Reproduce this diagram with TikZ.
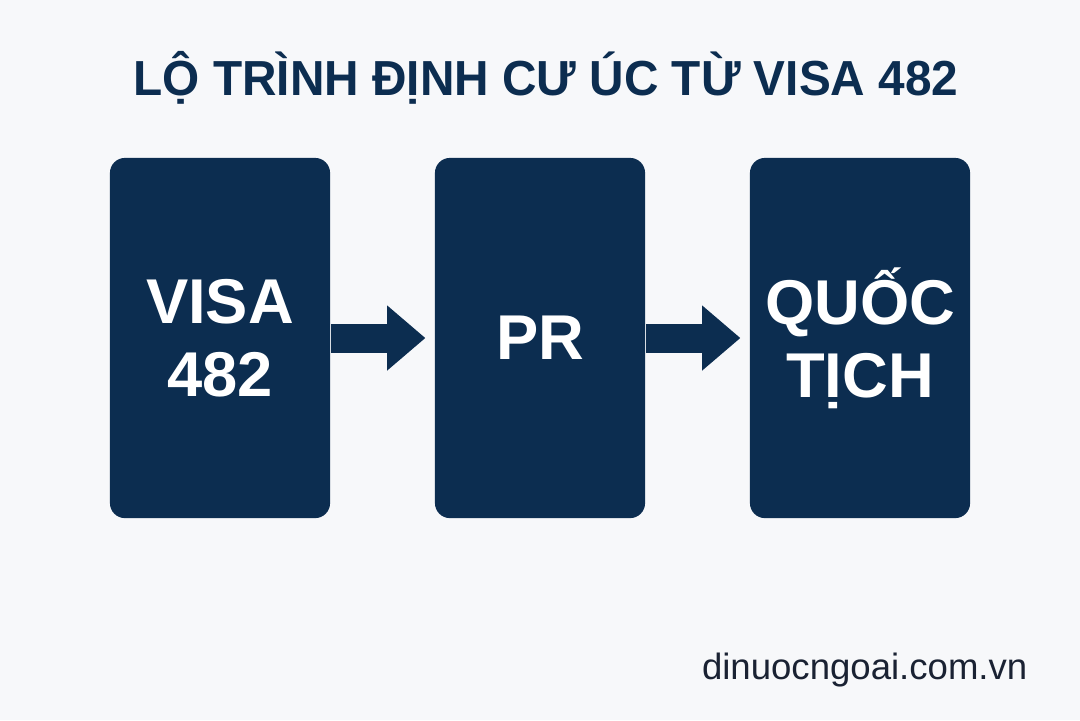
\documentclass[tikz,border=0pt]{standalone}
\usepackage{fontspec}
\usepackage{graphicx}
\setmainfont{Liberation Sans}
\usetikzlibrary{arrows.meta}
\definecolor{navy}{RGB}{12,45,80}
\definecolor{bgpaper}{RGB}{247,248,250}
\definecolor{inkfoot}{RGB}{26,34,51}
\tikzset{
	stage/.style={fill=navy, rounded corners=0.15cm, minimum height=3.6cm, inner sep=0pt,
		text=white, align=center, font=\bfseries\fontsize{18}{20.8}\selectfont},
	flow/.style={draw=navy, line width=0.29cm,
		-{Triangle[length=0.38cm, width=0.65cm, line width=0pt]}, shorten >=0.09cm}
}

\begin{document}
\begin{tikzpicture}[x=0.01cm, y=-0.01cm]

	\fill[bgpaper] (0,0) rectangle (1080,720);
	\useasboundingbox (0,0) rectangle (1080,720);

	\node[text=navy, font=\bfseries\fontsize{14}{16}\selectfont] (title) at (546,78)
		{\scalebox{0.97}[1]{LỘ TRÌNH ĐỊNH CƯ ÚC TỪ VISA 482}};

	\node[stage, minimum width=2.2cm] (visa) at (220,338) {VISA\\482};
	\node[stage, minimum width=2.1cm] (pr) at (540,338) {PR};
	\node[stage, minimum width=2.2cm] (quoctich) at (860,338) {QUỐC\\TỊCH};

	\draw[flow] (visa) -- (pr);
	\draw[flow] (pr) -- (quoctich);

	\node[text=inkfoot, font=\fontsize{10.4}{12}\selectfont, anchor=east, inner sep=0pt] (site) at (1028,670)
		{dinuocngoai.com.vn};

\end{tikzpicture}
\end{document}
